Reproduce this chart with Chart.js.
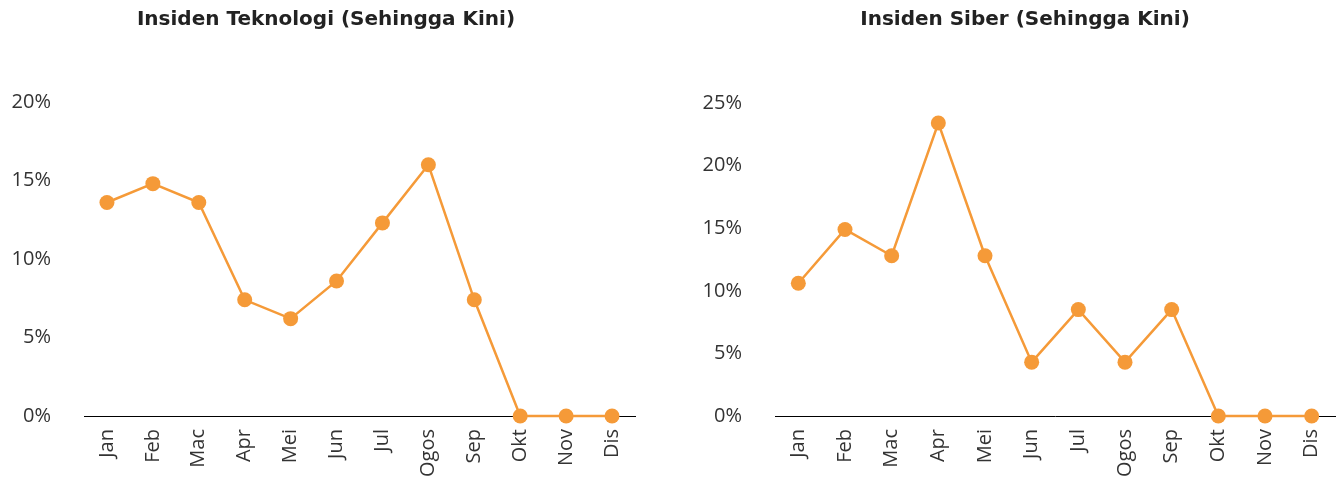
<!DOCTYPE html>
<html>
<head>
<meta charset="utf-8">
<script src="https://cdn.jsdelivr.net/npm/chart.js@4/dist/chart.umd.min.js"></script>
<style>
  html, body { margin: 0; padding: 0; background: #ffffff; }
  body { width: 1344px; height: 481px; position: relative; overflow: hidden; }
  .box { position: absolute; top: 0; height: 481px; }
  #b1 { left: 0; width: 652px; }
  #b2 { left: 690px; width: 670px; }
</style>
</head>
<body>
<div class="box" id="b1"><canvas id="c1"></canvas></div>
<div class="box" id="b2"><canvas id="c2"></canvas></div>
<script>
const months = ["Jan", "Feb", "Mac", "Apr", "Mei", "Jun", "Jul", "Ogos", "Sep", "Okt", "Nov", "Dis"];
const teknologiValues = [13.6, 14.8, 13.6, 7.4, 6.2, 8.6, 12.3, 16.0, 7.4, 0, 0, 0];
const siberValues = [10.6, 14.9, 12.8, 23.4, 12.8, 4.3, 8.5, 4.3, 8.5, 0, 0, 0];
const teknologiTitle = "Insiden Teknologi (Sehingga Kini)";
const siberTitle = "Insiden Siber (Sehingga Kini)";
const teknologiMax = 20;
const siberMax = 25;
const tickStep = 5;

const FONT = "'Open Sans', 'Noto Sans', sans-serif";
const TITLE_FONT = "'DejaVu Sans', 'Open Sans', sans-serif";
const ORANGE = "#F59A38";

function makeChart(id, title, values, yMax, cfg) {
  return new Chart(document.getElementById(id), {
    type: "line",
    data: {
      labels: months,
      datasets: [{
        data: values,
        yAxisID: "y",
        borderColor: ORANGE,
        backgroundColor: ORANGE,
        borderWidth: 2.5,
        pointRadius: 7.5,
        pointHoverRadius: 7.5,
        pointBackgroundColor: ORANGE,
        pointBorderWidth: 0,
        tension: 0,
        clip: false
      }]
    },
    options: {
      responsive: true,
      maintainAspectRatio: false,
      animation: false,
      layout: { padding: 0 },
      plugins: {
        legend: { display: false },
        tooltip: { enabled: false },
        title: {
          display: true,
          text: title,
          color: "#222222",
          font: { family: TITLE_FONT, size: 20, weight: "bold", lineHeight: 1.2 },
          padding: { top: 8, bottom: cfg.titleBottom }
        }
      },
      scales: {
        x: {
          offset: true,
          grid: { display: false, drawTicks: false },
          border: { display: true, color: "#000000", width: 1 },
          ticks: {
            color: "#333333",
            font: { family: FONT, size: 20 },
            minRotation: 90,
            maxRotation: 90,
            padding: 13,
            autoSkip: false
          },
          afterFit: function (s) { s.height = 65; }
        },
        y: {
          position: "left",
          min: 0,
          max: yMax,
          grid: { display: false, drawTicks: false },
          border: { display: false },
          ticks: {
            stepSize: tickStep,
            color: "#333333",
            font: { family: FONT, size: 20 },
            padding: cfg.tickPad,
            callback: function (v) { return v + "%"; }
          },
          afterFit: function (s) { s.width = cfg.yWidth; }
        },
        spacer: {
          type: "linear",
          position: "right",
          display: true,
          grid: { display: false, drawTicks: false },
          border: { display: false },
          ticks: { display: false },
          afterFit: function (s) { s.width = cfg.rightSpace; }
        }
      }
    }
  });
}

makeChart("c1", teknologiTitle, teknologiValues, teknologiMax, { yWidth: 84, rightSpace: 17, tickPad: 33, titleBottom: 70 });
makeChart("c2", siberTitle, siberValues, siberMax, { yWidth: 85, rightSpace: 25, tickPad: 33, titleBottom: 71 });
</script>
</body>
</html>
